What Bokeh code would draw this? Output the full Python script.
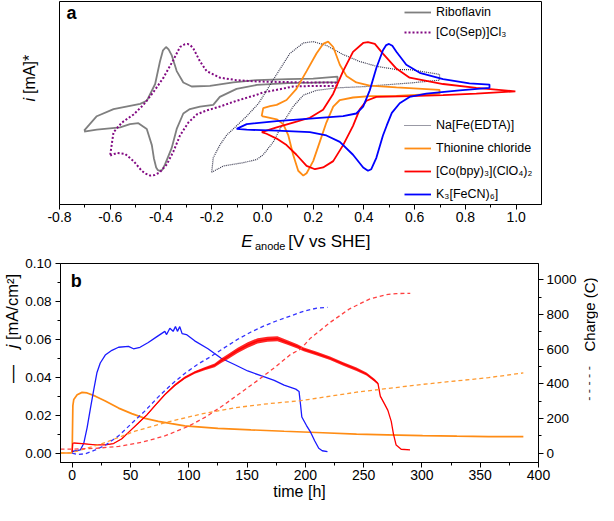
import math
from bokeh.plotting import figure
from bokeh.models import (Range1d, LinearAxis, Label, FixedTicker, NumeralTickFormatter,
                          Legend, LegendItem)
from bokeh.layouts import column, row
from bokeh.embed import file_html
from bokeh.resources import INLINE

FONT = "Liberation Sans"

# ---------------- panel a : cyclic voltammograms (current in arbitrary units) -------------
ribo_E = [-0.703, -0.653, -0.587, -0.482, -0.456, -0.423, -0.404, -0.392, -0.380, -0.370, -0.358,
          -0.338, -0.312, -0.279, -0.207, -0.115, -0.023, 0.10, 0.20, 0.296, 0.296, 0.20, 0.10,
          -0.022, -0.102, -0.168, -0.194, -0.246, -0.286, -0.312, -0.338, -0.358, -0.384, -0.395,
          -0.404, -0.412, -0.419, -0.428, -0.436, -0.456, -0.489, -0.522, -0.561, -0.653, -0.703]
ribo_i = [38.3, 45.8, 49.5, 52.2, 53.8, 62.5, 74.2, 80.0, 81.7, 80.5, 77.5,
          69.2, 63.3, 61.2, 61.5, 63.3, 64.5, 65.0, 65.3, 66.3, 63.5, 63.2, 63.0,
          62.0, 60.0, 55.8, 51.7, 50.8, 49.5, 47.2, 39.2, 29.2, 20.8, 18.0,
          17.5, 17.8, 19.2, 24.0, 30.8, 39.2, 42.2, 41.7, 40.0, 38.8, 37.8]

sep_E = [-0.600, -0.587, -0.554, -0.508, -0.469, -0.430, -0.390, -0.351, -0.325, -0.308, -0.295,
         -0.283, -0.272, -0.246, -0.220, -0.168, -0.102, -0.023, 0.10, 0.20, 0.292, 0.292, 0.20,
         0.121, 0.0, -0.023, -0.102, -0.168, -0.220, -0.259, -0.292, -0.325, -0.351, -0.377,
         -0.404, -0.425, -0.443, -0.460, -0.476, -0.508, -0.541, -0.574, -0.600]
sep_i = [25.8, 37.5, 42.5, 46.7, 51.7, 58.3, 65.8, 75.0, 81.7, 83.0, 83.3,
         82.5, 80.8, 74.2, 69.2, 65.8, 64.5, 63.8, 63.5, 63.3, 63.2, 61.5, 61.5,
         61.2, 58.0, 56.9, 53.8, 50.8, 48.8, 46.7, 42.5, 35.8, 27.5, 20.8,
         16.7, 15.3, 15.0, 16.0, 17.5, 22.5, 26.2, 26.7, 25.4]

edta_E = [-0.200, -0.194, -0.168, -0.141, -0.115, -0.062, -0.015, 0.056, 0.108, 0.161, 0.200,
          0.252, 0.318, 0.383, 0.449, 0.528, 0.580, 0.698, 0.698, 0.580, 0.528, 0.449, 0.410,
          0.292, 0.213, 0.161, 0.121, 0.082, 0.043, 0.003, -0.023, -0.075, -0.154, -0.200]
edta_i = [16.7, 24.2, 30.8, 36.0, 39.2, 45.8, 52.5, 67.5, 78.3, 83.8, 84.5,
          82.5, 77.8, 74.2, 71.7, 70.0, 70.0, 67.5, 64.5, 63.0, 62.5, 61.7, 61.2,
          60.5, 59.2, 56.7, 50.8, 42.5, 32.5, 25.8, 23.3, 21.7, 20.0, 16.7]

thio_E = [-0.003, 0.003, 0.030, 0.056, 0.095, 0.134, 0.174, 0.213, 0.239, 0.259, 0.279,
          0.305, 0.331, 0.370, 0.423, 0.528, 0.698, 0.698, 0.528, 0.423, 0.357, 0.305,
          0.279, 0.252, 0.226, 0.200, 0.174, 0.161, 0.141, 0.121, 0.102, 0.082, 0.056,
          0.016, -0.003]
thio_i = [45.8, 50.0, 51.0, 51.7, 54.2, 60.0, 69.2, 78.3, 83.3, 84.5, 81.7,
          72.5, 66.7, 63.3, 61.7, 60.8, 59.5, 57.5, 56.3, 56.2, 55.5, 54.2,
          50.8, 42.5, 32.5, 22.5, 16.2, 15.0, 17.5, 25.8, 35.8, 41.7, 44.2,
          45.3, 45.8]

cobpy_E = [-0.003, 0.056, 0.121, 0.187, 0.239, 0.279, 0.318, 0.357, 0.397, 0.416, 0.443,
           0.475, 0.528, 0.580, 0.712, 0.843, 0.997, 0.843, 0.712, 0.580, 0.449, 0.410,
           0.383, 0.357, 0.318, 0.279, 0.239, 0.207, 0.174, 0.134, 0.095, 0.056, 0.016, -0.003]
cobpy_i = [37.5, 40.0, 42.5, 45.0, 49.2, 57.5, 69.2, 79.2, 83.8, 84.2, 83.3,
           78.3, 70.5, 65.8, 62.5, 60.5, 58.7, 57.5, 56.7, 56.2, 55.8, 53.8,
           49.2, 40.8, 30.8, 22.5, 19.2, 18.3, 20.0, 25.8, 30.8, 34.2, 36.7, 37.5]

fecn_E = [-0.102, -0.062, 0.056, 0.187, 0.318, 0.370, 0.397, 0.423, 0.449, 0.475, 0.488,
          0.499, 0.512, 0.528, 0.567, 0.620, 0.712, 0.816, 0.895, 0.895, 0.777, 0.646,
          0.580, 0.541, 0.510, 0.490, 0.475, 0.449, 0.429, 0.416, 0.397, 0.357, 0.305,
          0.252, 0.187, 0.056, -0.062, -0.102]
fecn_i = [39.2, 41.7, 43.3, 44.5, 45.8, 47.2, 50.8, 59.2, 70.8, 80.0, 82.7,
          83.3, 82.3, 79.2, 72.5, 68.3, 65.0, 62.8, 62.2, 60.5, 59.2, 57.5,
          55.8, 52.5, 47.5, 41.0, 35.8, 24.2, 18.3, 17.5, 19.2, 25.8, 32.5,
          35.8, 37.5, 38.3, 38.8, 39.2]

a_xticks = [-0.8, -0.6, -0.4, -0.2, 0.0, 0.2, 0.4, 0.6, 0.8, 1.0]
a_xminor = [-0.7, -0.5, -0.3, -0.1, 0.1, 0.3, 0.5, 0.7, 0.9]

# ---------------- panel b : current density and charge vs time ----------------
orange_t = [-10, 0, 0.6, 1.4, 4.3, 8.5, 12.8, 19.9, 28.4, 39.8, 51.1, 62.5, 73.9, 85.2, 96.6,
            110.8, 125, 153.4, 181.8, 215, 243.9, 270, 300.6, 330, 357.2, 387]
orange_j = [0.0, 0.0, 0.025, 0.0283, 0.0308, 0.032, 0.0317, 0.030, 0.0275, 0.0237, 0.0208,
            0.0183, 0.0167, 0.0155, 0.0143, 0.0137, 0.013, 0.0122, 0.0115, 0.0107, 0.010,
            0.0096, 0.0092, 0.0089, 0.0087, 0.0087]
orange_qt = [-10, 0, 25.6, 54, 82.4, 110.8, 139.2, 167.6, 196, 243.9, 300.6, 357.2, 387]
orange_q = [0, 2, 54, 126, 180, 225, 261, 284, 302, 351, 396, 435, 462]

blue_t = [0, 7.1, 9.9, 12.8, 15.6, 18.5, 21.3, 24.1, 28.4, 34.1, 39.8, 48.3, 52.6, 58.2, 65.3,
          72.4, 79.5, 81, 83.8, 86.6, 88.6, 90.3, 92.3, 94.3, 98, 105.1, 116.5, 127.8, 139.2,
          150.6, 161.9, 173.3, 181.8, 191.8, 194.6, 195.8, 197, 201, 204.5, 208, 211.5, 214.5,
          219]
blue_j = [0.0008, 0.0017, 0.005, 0.0133, 0.0233, 0.0333, 0.0425, 0.0475, 0.0517, 0.0542,
          0.0558, 0.0563, 0.055, 0.0558, 0.0583, 0.0613, 0.0642, 0.0625, 0.0658, 0.0642,
          0.0667, 0.0642, 0.0667, 0.063, 0.0625, 0.0592, 0.055, 0.050, 0.0467, 0.0433,
          0.0408, 0.0383, 0.0358, 0.0337, 0.0325, 0.026, 0.019, 0.0145, 0.011, 0.0065,
          0.0025, 0.0012, 0.0007]
blue_qt = [0, 4.3, 11.4, 19.9, 28.4, 39.8, 51.1, 62.5, 73.9, 85.2, 96.6, 108, 119.3, 130.7,
           142, 153.4, 164.8, 176.1, 187.5, 198.6, 209.9, 219]
blue_q = [0, -9, -4, 18, 45, 99, 171, 243, 324, 396, 459, 513, 558, 608, 656, 698, 734, 764,
          791, 818, 836, 840]

red_t = [0, 0.5, 1.4, 8.5, 19.9, 28.4, 35.5, 42.6, 49.7, 56.8, 63.9, 71, 79.5, 88.1, 96.6,
         105.1, 113.6, 122.2, 127.8, 133.5, 142, 150.6, 159.1, 167.6, 176.1, 184.7, 193.2,
         198.6, 209.9, 221.2, 232.6, 243.9, 252.4, 259.5, 262.3, 264.3, 268, 270.8, 273.7,
         275.6, 277.9, 282.2, 289.8]
red_j = [0.0005, 0.0050, 0.0053, 0.0050, 0.0043, 0.0043, 0.0050, 0.0075, 0.0117, 0.0158,
         0.0200, 0.0250, 0.0308, 0.0358, 0.0397, 0.0425, 0.0445, 0.0463, 0.0487, 0.0508,
         0.0542, 0.0570, 0.0592, 0.0600, 0.0603, 0.0583, 0.0563, 0.0547, 0.0525, 0.0500,
         0.0470, 0.0442, 0.0417, 0.0383, 0.0367, 0.0300, 0.0258, 0.0225, 0.0167, 0.0100,
         0.0042, 0.0020, 0.0017]
red_noise = [0, 0, 0, 0.0001, 0.0001, 0.0001, 0.0001, 0.0002, 0.0002, 0.0003, 0.0003, 0.0004,
             0.0005, 0.0006, 0.0007, 0.0007, 0.0008, 0.0010, 0.0012, 0.0013, 0.0014, 0.0014,
             0.0014, 0.0013, 0.0013, 0.0012, 0.0011, 0.0010, 0.0010, 0.0009, 0.0009, 0.0009,
             0.0008, 0.0007, 0.0005, 0.0003, 0.0002, 0.0001, 0, 0, 0, 0, 0]
red_qt = [-10, 0, 20, 40, 60, 80, 100, 115, 130, 145, 160, 175, 187, 196, 204, 221, 238, 255,
          269, 278, 290]
red_q = [22, 22, 27, 38, 62, 100, 155, 210, 277, 350, 423, 500, 567, 600, 660, 752, 832, 888,
         913, 920, 921]

b_xticks = [0, 50, 100, 150, 200, 250, 300, 350, 400]
b_xminor = [25, 75, 125, 175, 225, 275, 325, 375]
b_jticks = [0.0, 0.02, 0.04, 0.06, 0.08, 0.10]
b_jminor = [0.01, 0.03, 0.05, 0.07, 0.09]
b_qticks = [0, 200, 400, 600, 800, 1000]
b_qminor = [100, 300, 500, 700, 900]


def style_axis(ax, standoff=3, size="14px"):
    ax.axis_line_color = "black"
    ax.major_tick_line_color = "black"
    ax.minor_tick_line_color = "black"
    ax.major_tick_in = 0
    ax.major_tick_out = 5
    ax.minor_tick_in = 0
    ax.minor_tick_out = 3
    ax.major_label_text_font = FONT
    ax.major_label_text_font_size = size
    ax.major_label_text_color = "black"
    ax.major_label_standoff = standoff


def lab(p, text, x, y, size, style="normal", angle=0.0, align="left", baseline="alphabetic",
        color="black"):
    p.add_layout(Label(x=x, y=y, x_units="screen", y_units="screen", text=text,
                       text_font=FONT, text_font_size=size, text_font_style=style,
                       angle=angle, text_align=align, text_baseline=baseline,
                       text_color=color))


def text_box(w, h):
    """An axis-less figure whose whole area is its frame; used to hold side texts."""
    f = figure(width=w, height=h, x_range=Range1d(0, 1), y_range=Range1d(0, 1),
               output_backend="svg", toolbar_location=None,
               x_axis_location=None, y_axis_location=None,
               min_border_left=0, min_border_right=0, min_border_top=0, min_border_bottom=0)
    f.outline_line_color = None
    f.xgrid.visible = False
    f.ygrid.visible = False
    return f


# ---------------- figure a ----------------
p1 = figure(width=558, height=228, x_range=Range1d(-0.8, 1.1), y_range=Range1d(0, 105.3),
            output_backend="svg", toolbar_location=None, y_axis_location=None,
            min_border_left=19, min_border_right=57, min_border_top=1, min_border_bottom=24)
p1.outline_line_color = "black"
p1.outline_line_alpha = 1
p1.xgrid.visible = False
p1.ygrid.visible = False
p1.xaxis.ticker = FixedTicker(ticks=a_xticks, minor_ticks=a_xminor)
p1.xaxis.formatter = NumeralTickFormatter(format="0.0")
style_axis(p1.xaxis[0], standoff=2)

r_ribo = p1.line(ribo_E, ribo_i, line_color="#7f7f7f", line_width=1.8)
r_sep = p1.line(sep_E, sep_i, line_color="#820a82", line_width=2, line_dash="2 2")
r_edta = p1.line(edta_E, edta_i, line_color="#33334a", line_width=1.2, line_dash="1 1")
r_thio = p1.line(thio_E, thio_i, line_color="#ff8c14", line_width=1.8)
r_cobpy = p1.line(cobpy_E, cobpy_i, line_color="#ff0000", line_width=1.8)
r_fecn = p1.line(fecn_E, fecn_i, line_color="#0000ff", line_width=1.8)


def make_legend(items, loc, spacing):
    lg = Legend(items=items, location=loc, orientation="vertical")
    lg.border_line_alpha = 0
    lg.background_fill_alpha = 0
    lg.padding = 0
    lg.margin = 0
    lg.spacing = spacing
    lg.glyph_height = 16
    lg.glyph_width = 27
    lg.label_height = 16
    lg.label_standoff = 5
    lg.label_text_font = FONT
    lg.label_text_font_size = "12.5px"
    lg.label_text_color = "black"
    return lg


leg1 = make_legend([LegendItem(label="Riboflavin", renderers=[r_ribo]),
                    LegendItem(label="[Co(Sep)]Cl\u2083", renderers=[r_sep])], (345, 164), 4)
leg2 = make_legend([LegendItem(label="Na[Fe(EDTA)]", renderers=[r_edta]),
                    LegendItem(label="Thionine chloride", renderers=[r_thio]),
                    LegendItem(label="[Co(bpy)\u2083](ClO\u2084)\u2082", renderers=[r_cobpy]),
                    LegendItem(label="K\u2083[FeCN)\u2086]", renderers=[r_fecn])], (345, 2), 7)
p1.add_layout(leg1)
p1.add_layout(leg2)
lab(p1, "a", 7, 192, "18px", style="bold")

# y-label of panel a (left strip)
pI = text_box(40, 228)
lab(pI, "i", 29, 106.5, "16px", style="italic", angle=math.pi / 2, align="right", baseline="middle")
lab(pI, "[mA]*", 29, 110.5, "16px", angle=math.pi / 2, align="left", baseline="middle")

# x-label of panel a (strip between the panels)
pE = text_box(598, 26)
lab(pE, "E", 240.7, 13, "17px", style="italic")
lab(pE, "anode", 254.4, 8.5, "11px")
lab(pE, "[V vs SHE]", 287.7, 13, "17px")

# ---------------- figure b ----------------
p2 = figure(width=557, height=251, x_range=Range1d(-10, 400), y_range=Range1d(-0.005, 0.1),
            output_backend="svg", toolbar_location=None,
            min_border_left=37, min_border_right=38, min_border_top=9, min_border_bottom=43)
p2.extra_y_ranges = {"q": Range1d(-54.7, 1093.3)}
p2.outline_line_color = "black"
p2.outline_line_alpha = 1
p2.xgrid.visible = False
p2.ygrid.visible = False
p2.xaxis.ticker = FixedTicker(ticks=b_xticks, minor_ticks=b_xminor)
p2.yaxis.ticker = FixedTicker(ticks=b_jticks, minor_ticks=b_jminor)
p2.yaxis.formatter = NumeralTickFormatter(format="0.00")
style_axis(p2.xaxis[0], standoff=2)
style_axis(p2.yaxis[0], standoff=4, size="13.5px")
p2.xaxis.axis_label = "time [h]"
p2.xaxis.axis_label_text_font = FONT
p2.xaxis.axis_label_text_font_size = "16px"
p2.xaxis.axis_label_text_font_style = "normal"
p2.xaxis.axis_label_text_color = "black"
p2.xaxis.axis_label_standoff = 0
ax_r = LinearAxis(y_range_name="q", ticker=FixedTicker(ticks=b_qticks, minor_ticks=b_qminor))
style_axis(ax_r, standoff=3, size="13.5px")
p2.add_layout(ax_r, "right")

p2.line(orange_t, orange_j, line_color="#ff8c14", line_width=1.7)
p2.line(blue_t, blue_j, line_color="#1a1aff", line_width=1.3)
red_lo = [a - b for a, b in zip(red_j, red_noise)]
red_hi = [a + b for a, b in zip(red_j, red_noise)]
p2.varea(x=red_t, y1=red_lo, y2=red_hi, fill_color="#ff0000", fill_alpha=0.85)
p2.line(red_t, red_j, line_color="#ff0000", line_width=1.3)
p2.line(orange_qt, orange_q, y_range_name="q", line_color="#ff9a30", line_width=1.3, line_dash="4 3")
p2.line(blue_qt, blue_q, y_range_name="q", line_color="#3333ff", line_width=1.3, line_dash="4 3")
p2.line(red_qt, red_q, y_range_name="q", line_color="#ff4040", line_width=1.3, line_dash="4 3")

lab(p2, "b", 10.3, 181.5, "18px", style="bold")

# left label of panel b
pJ = text_box(22, 251)
lab(pJ, "\u2014", 11, 88.5, "18px", angle=math.pi / 2, align="center", baseline="middle")
lab(pJ, "j", 11, 118, "16.5px", style="italic", angle=math.pi / 2, align="right", baseline="middle")
lab(pJ, "[mA/cm\u00b2]", 11, 122.5, "16.5px", angle=math.pi / 2, align="left", baseline="middle")

# right label of panel b
pC = text_box(19, 251)
lab(pC, "Charge (C)", 9.5, 148, "15px", angle=math.pi / 2, align="center", baseline="middle")
lab(pC, "- - - - -", 9.5, 79, "12.5px", angle=math.pi / 2, align="center", baseline="middle",
    color="#333333")

layout = column(row(pI, p1, spacing=0), pE, row(pJ, p2, pC, spacing=0), spacing=0)
open("out.html", "w").write(file_html(layout, INLINE))
